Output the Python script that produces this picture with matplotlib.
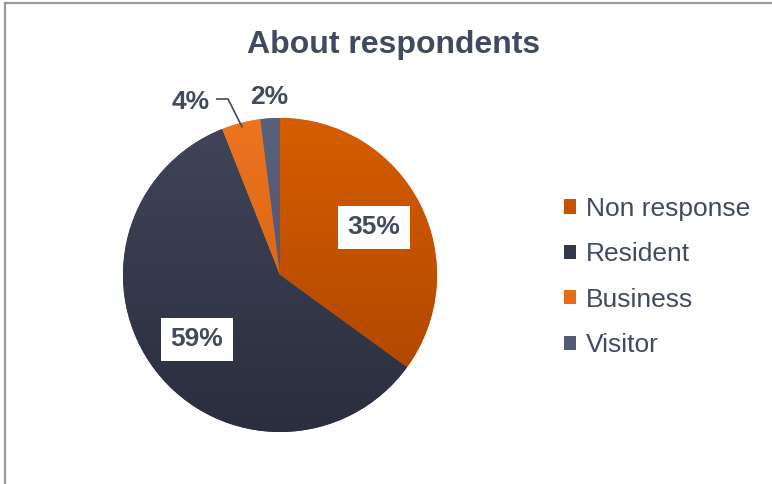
import numpy as np
import matplotlib
matplotlib.use("Agg")
import matplotlib.pyplot as plt
from matplotlib.colors import LinearSegmentedColormap
from matplotlib.patches import Patch
from matplotlib.lines import Line2D

plt.rcParams['font.family'] = ['Liberation Sans', 'DejaVu Sans']

# data
categories = ["Non response", "Resident", "Business", "Visitor"]
shares = [35, 59, 4, 2]
pct_labels = ["35%", "59%", "4%", "2%"]

# colours (top, bottom of gradient) per slice
grad_top = ["#d65d00", "#40455a", "#ee7420", "#58607c"]
grad_bot = ["#a94300", "#2a2e3d", "#c95a0c", "#4a5270"]
flat = ["#c85200", "#333849", "#e66c15", "#515a77"]
txt_col = "#414a5e"

fig = plt.figure(figsize=(7.72, 4.84), dpi=100)
ax = fig.add_axes([80 / 772, 9 / 484, 400 / 772, 400 / 484])

wedges, _ = ax.pie(shares, colors=flat, startangle=90, counterclock=False,
                   radius=1.0, wedgeprops=dict(linewidth=0))

# vertical gradient inside each slice
g = np.linspace(0, 1, 256).reshape(-1, 1)
for w, ct, cb in zip(wedges, grad_top, grad_bot):
    cmap = LinearSegmentedColormap.from_list("g", [cb, ct])
    im = ax.imshow(g, cmap=cmap, origin="lower", extent=[-1, 1, -1, 1],
                   aspect="auto", zorder=w.get_zorder() + 0.1)
    im.set_clip_path(w)

lim = 200 / 157
ax.set_xlim(-lim, lim)
ax.set_ylim(-lim, lim)
ax.set_aspect("equal")
ax.axis("off")

# inside labels with white boxes
for i in (0, 1):
    w = wedges[i]
    ang = np.deg2rad((w.theta1 + w.theta2) / 2)
    ax.text(0.67 * np.cos(ang), 0.67 * np.sin(ang), pct_labels[i],
            ha="center", va="center", fontsize=19, fontweight="bold",
            color=txt_col, zorder=5,
            bbox=dict(boxstyle="square,pad=0.36", fc="white", ec="none"))

# outside labels
w = wedges[2]
ang = np.deg2rad((w.theta1 + w.theta2) / 2)
ax.text(-0.45, 1.10, pct_labels[2], ha="right", va="center", fontsize=19,
        fontweight="bold", color=txt_col)
ex, ey = 0.975 * np.cos(ang), 0.975 * np.sin(ang)
ax.plot([-0.402, -0.331, ex], [1.121, 1.121, ey], color=txt_col, lw=1.2,
        solid_joinstyle="miter")

w = wedges[3]
ang = np.deg2rad((w.theta1 + w.theta2) / 2)
ax.text(1.135 * np.cos(ang), 1.135 * np.sin(ang), pct_labels[3],
        ha="center", va="center", fontsize=19, fontweight="bold",
        color=txt_col)

fig.text(394 / 772, 1 - 45 / 484, "About respondents", ha="center",
         va="center", fontsize=23, fontweight="bold", color=txt_col)

handles = [Patch(facecolor=c, edgecolor="none") for c in flat]
leg = fig.legend(handles, categories, loc="center left",
                 bbox_to_anchor=(564 / 772, 1 - 277 / 484), frameon=False,
                 fontsize=19, handlelength=0.45, handleheight=0.45,
                 handletextpad=0.38, labelspacing=0.81, borderpad=0,
                 borderaxespad=0)
for t in leg.get_texts():
    t.set_color(txt_col)

# chart frame (top and left edges visible)
fig.add_artist(Line2D([5 / 772, 1], [1 - 3 / 484, 1 - 3 / 484],
                      color="#9a9a9a", lw=1.6))
fig.add_artist(Line2D([5 / 772, 5 / 772], [0, 1 - 3 / 484],
                      color="#9a9a9a", lw=1.6))

fig.savefig("out.png", dpi=100)
